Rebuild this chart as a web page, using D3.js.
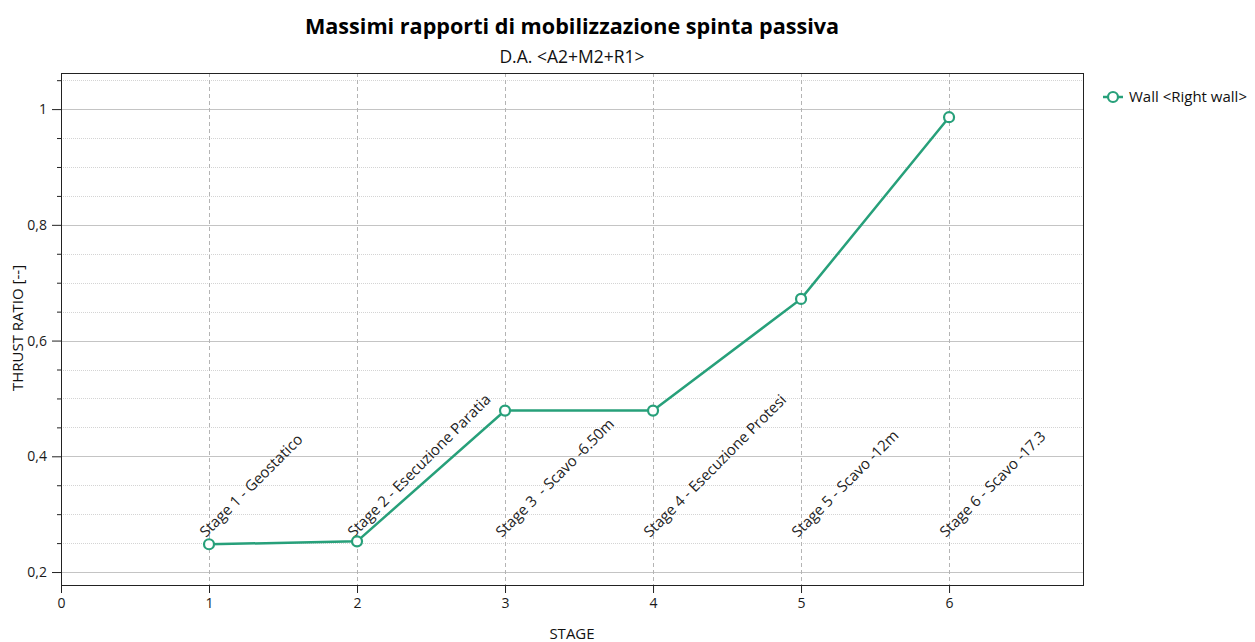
<!DOCTYPE html>
<html>
<head>
<meta charset="utf-8">
<script src="https://cdn.jsdelivr.net/npm/d3@7"></script>
<style>
  body { margin: 0; background: #fff; }
  text { font-family: "Open Sans", "Noto Sans", sans-serif; }
</style>
</head>
<body>
<div class="container"></div>
<script>
// stage values
var stages = [1, 2, 3, 4, 5, 6];
var ratios = [0.248, 0.253, 0.479, 0.479, 0.672, 0.986];
var stageNames = ['Stage 1 - Geostatico', 'Stage 2 - Esecuzione Paratia', 'Stage 3  - Scavo -6.50m',
                  'Stage 4 - Esecuzione Protesi', 'Stage 5 - Scavo -12m', 'Stage 6 - Scavo -17.3'];
var xTicks = [0, 1, 2, 3, 4, 5, 6];
var yMajor = [0.2, 0.4, 0.6, 0.8, 1];
var yMinor = [0.25, 0.3, 0.35, 0.45, 0.5, 0.55, 0.65, 0.7, 0.75, 0.85, 0.9, 0.95, 1.05];

var green = '#27a07a';

var svg = d3.select('.container')
            .append('svg')
                .attr('width', 1255)
                .attr('height', 642);

var pL = 61, pR = 1083, pT = 73, pB = 585;

var x = d3.scaleLinear().domain([0, 6.905]).range([pL, pR]);
var y = d3.scaleLinear().domain([0.1776, 1.0624]).range([pB, pT]);

// grid
svg.append('g').selectAll('line').data(yMinor).enter()
    .append('line')
        .attr('x1', pL).attr('x2', pR)
        .attr('y1', function(d) { return Math.round(y(d)) + 0.5; })
        .attr('y2', function(d) { return Math.round(y(d)) + 0.5; })
        .style('stroke', '#d4d4d4')
        .style('stroke-dasharray', '1,1');

svg.append('g').selectAll('line').data(yMajor).enter()
    .append('line')
        .attr('x1', pL).attr('x2', pR)
        .attr('y1', function(d) { return Math.round(y(d)) + 0.5; })
        .attr('y2', function(d) { return Math.round(y(d)) + 0.5; })
        .style('stroke', '#c4c4c4')
        .style('stroke-width', 1.2);

svg.append('g').selectAll('line').data(stages).enter()
    .append('line')
        .attr('x1', function(d) { return Math.round(x(d)) + 0.5; })
        .attr('x2', function(d) { return Math.round(x(d)) + 0.5; })
        .attr('y1', pT).attr('y2', pB)
        .style('stroke', '#b4b4b4')
        .style('stroke-dasharray', '4,3');

// frame
svg.append('rect')
    .attr('x', pL + 0.5).attr('y', pT + 0.5)
    .attr('width', pR - pL).attr('height', pB - pT)
    .style('fill', 'none')
    .style('stroke', '#222')
    .style('stroke-width', 1);

// axes
var xAxis = d3.axisBottom(x).tickValues(xTicks).tickSize(8).tickFormat(d3.format('d'));
var gx = svg.append('g').attr('transform', 'translate(0,' + pB + ')').call(xAxis);
gx.select('.domain').remove();
gx.selectAll('text').attr('y', 13).attr('dy', '0.71em').style('font-size', '14px').style('fill', '#1a1a1a');
gx.selectAll('line').style('stroke', '#222');

var yAxis = d3.axisLeft(y).tickValues(yMajor).tickSize(9)
              .tickFormat(function(d) { return d3.format('.1f')(d).replace('.', ',').replace(/,0$/, ''); });
var gy = svg.append('g').attr('transform', 'translate(' + pL + ',0)').call(yAxis);
gy.select('.domain').remove();
gy.selectAll('text').attr('x', -14).style('font-size', '14px').style('fill', '#1a1a1a');
gy.selectAll('line').style('stroke', '#222');

var gyMinor = svg.append('g').attr('transform', 'translate(' + pL + ',0)')
    .call(d3.axisLeft(y).tickValues(yMinor).tickSize(4).tickFormat(''));
gyMinor.select('.domain').remove();
gyMinor.selectAll('line').style('stroke', '#222');

// stage labels
svg.append('g').selectAll('text').data(stages).enter()
    .append('text')
        .attr('transform', function(d) { return 'translate(' + (x(d) - 3) + ',' + 538 + ') rotate(-45)'; })
        .style('font-size', '15px')
        .style('white-space', 'pre')
        .style('fill', '#222')
        .text(function(d, i) { return stageNames[i]; });

// series
var pts = stages.map(function(s, i) { return [s, ratios[i]]; });
var line = d3.line().x(function(d) { return x(d[0]); }).y(function(d) { return y(d[1]); });

svg.append('path')
    .datum(pts)
    .attr('d', line)
    .style('fill', 'none')
    .style('stroke', green)
    .style('stroke-width', 2.5);

svg.append('g').selectAll('circle').data(pts).enter()
    .append('circle')
        .attr('cx', function(d) { return x(d[0]); })
        .attr('cy', function(d) { return y(d[1]); })
        .attr('r', 5)
        .style('fill', '#fff')
        .style('stroke', green)
        .style('stroke-width', 2.2);

// titles
svg.append('text')
    .attr('x', 572).attr('y', 34)
    .attr('text-anchor', 'middle')
    .style('font-size', '21.6px')
    .style('font-weight', 'bold')
    .style('fill', '#000')
    .text('Massimi rapporti di mobilizzazione spinta passiva');

svg.append('text')
    .attr('x', 572).attr('y', 63)
    .attr('text-anchor', 'middle')
    .style('font-size', '17.5px')
    .style('fill', '#111')
    .text('D.A. <A2+M2+R1>');

svg.append('text')
    .attr('transform', 'translate(23,' + 328 + ') rotate(-90)')
    .attr('text-anchor', 'middle')
    .style('font-size', '15px')
    .style('fill', '#111')
    .text('THRUST RATIO [--]');

svg.append('text')
    .attr('x', 572).attr('y', 639)
    .attr('text-anchor', 'middle')
    .style('font-size', '15px')
    .style('fill', '#111')
    .text('STAGE');

// legend
var lg = svg.append('g').attr('transform', 'translate(1103,97)');
lg.append('line').attr('x1', 0).attr('x2', 20).attr('y1', 0).attr('y2', 0)
    .style('stroke', green).style('stroke-width', 2.5);
lg.append('circle').attr('cx', 10).attr('cy', 0).attr('r', 5)
    .style('fill', '#fff').style('stroke', green).style('stroke-width', 2.2);
lg.append('text').attr('x', 26).attr('y', 5)
    .style('font-size', '15px').style('fill', '#111')
    .text('Wall <Right wall>');
</script>
</body>
</html>
